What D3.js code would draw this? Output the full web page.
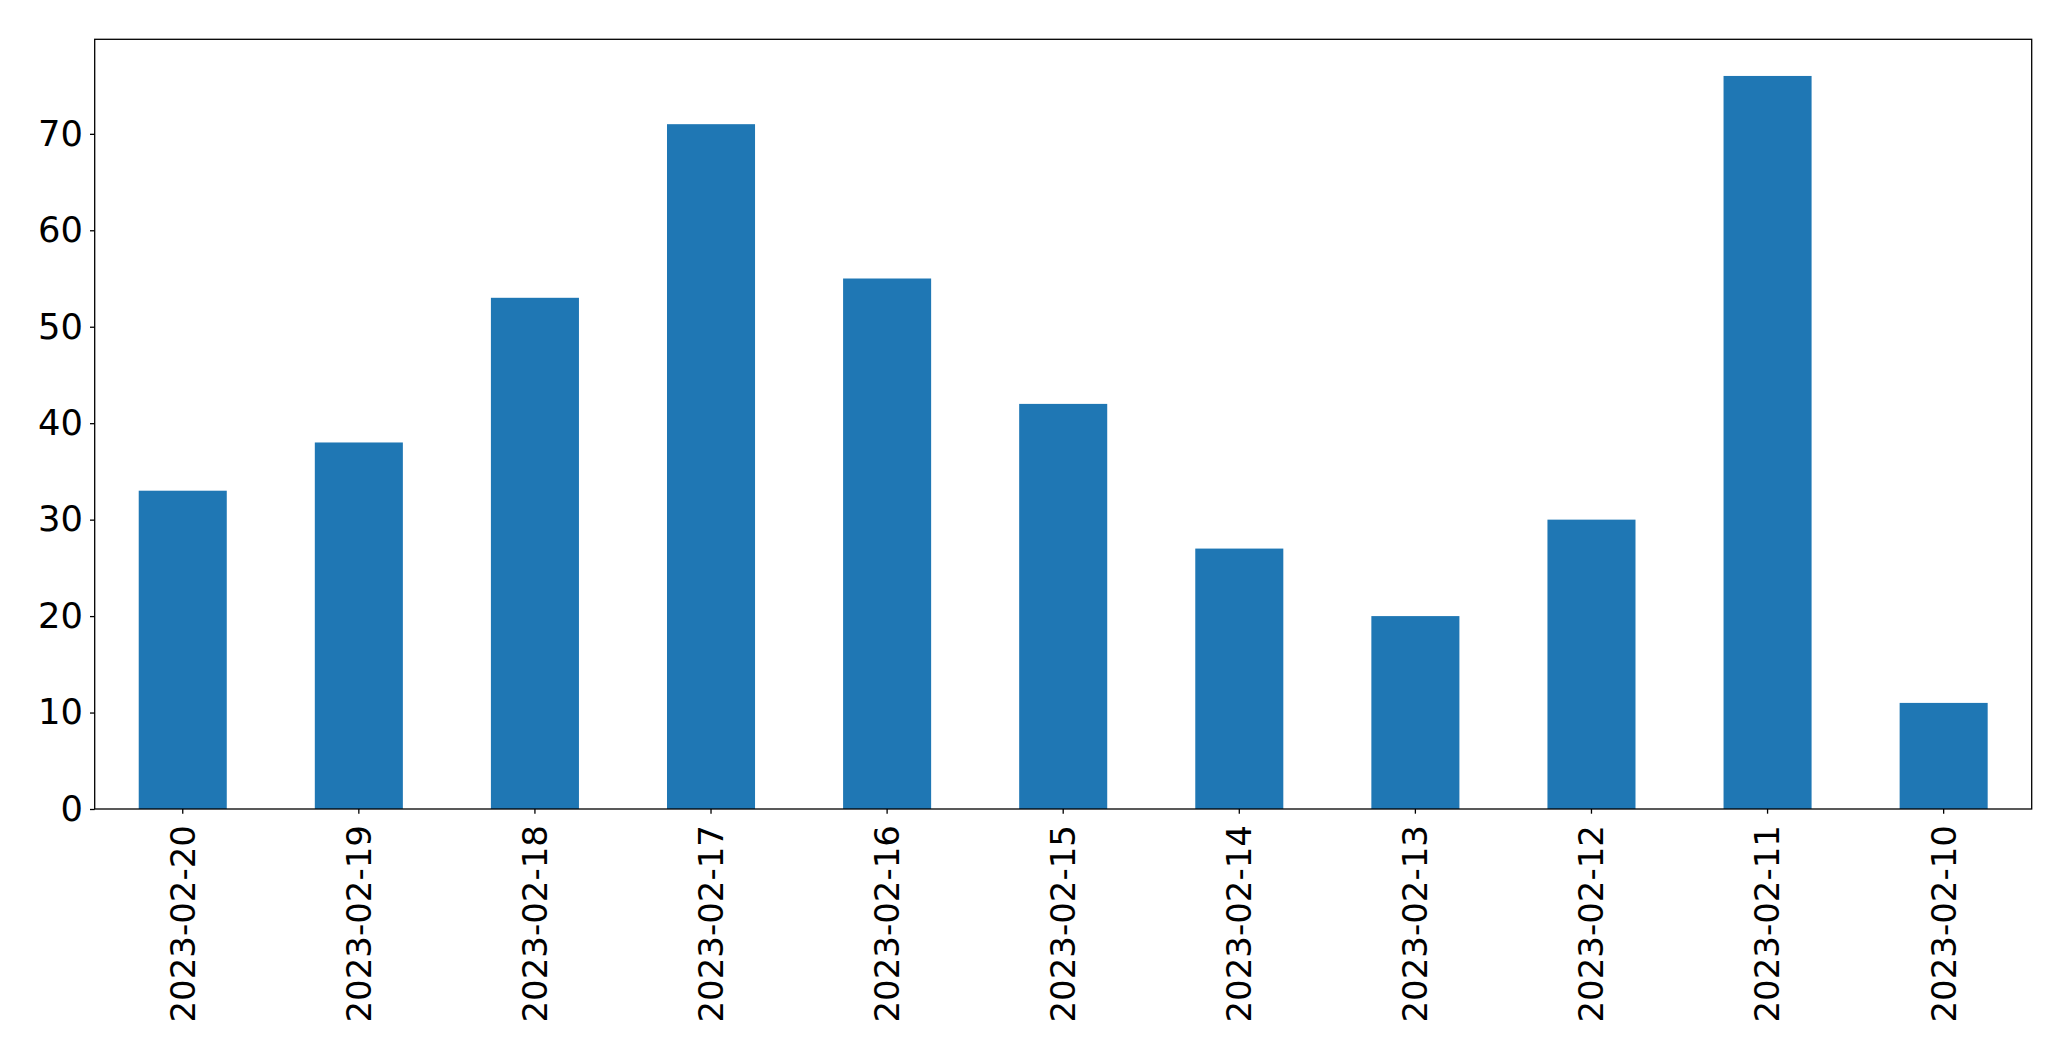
<!DOCTYPE html>
<html>
<head>
<meta charset="utf-8">
<script src="https://cdn.jsdelivr.net/npm/d3@7"></script>
<style>
  html, body { margin: 0; padding: 0; background: #ffffff; }
  svg { display: block; }
</style>
</head>
<body>
<svg id="chart"></svg>
<script>
const categories = ["2023-02-20","2023-02-19","2023-02-18","2023-02-17","2023-02-16","2023-02-15","2023-02-14","2023-02-13","2023-02-12","2023-02-11","2023-02-10"];
const values = [33, 38, 53, 71, 55, 42, 27, 20, 30, 76, 11];
const yTicks = [0, 10, 20, 30, 40, 50, 60, 70];

const W = 2071, H = 1061;
const margin = { left: 94.7, right: W - 2031.7, top: 39.3, bottom: H - 809 };
const svg = d3.select("#chart").attr("width", W).attr("height", H);
const fontFamily = "'DejaVu Sans', sans-serif";

const x = d3.scaleBand().domain(categories).range([margin.left, W - margin.right]).paddingInner(0.5).paddingOuter(0.25);
const y = d3.scaleLinear().domain([0, d3.max(values) * 1.05]).range([H - margin.bottom, margin.top]);

svg.append("g").selectAll("rect").data(categories).join("rect")
  .attr("x", d => x(d))
  .attr("width", x.bandwidth())
  .attr("y", (d, i) => y(values[i]))
  .attr("height", (d, i) => y(0) - y(values[i]))
  .attr("fill", "#1f77b4");

// frame
svg.append("rect")
  .attr("x", margin.left).attr("y", margin.top)
  .attr("width", W - margin.left - margin.right)
  .attr("height", H - margin.top - margin.bottom)
  .attr("fill", "none").attr("stroke", "#000").attr("stroke-width", 1.3);

const yAxis = svg.append("g").attr("transform", `translate(${margin.left},0)`)
  .call(d3.axisLeft(y).tickValues(yTicks).tickSize(4.7).tickPadding(7).tickFormat(d3.format("d")));
yAxis.select(".domain").remove();
yAxis.selectAll("line").attr("stroke", "#000").attr("stroke-width", 1.3);
yAxis.selectAll("text").attr("font-family", fontFamily).attr("font-size", 35.3).attr("fill", "#000");

const xAxis = svg.append("g").attr("transform", `translate(0,${H - margin.bottom})`)
  .call(d3.axisBottom(x).tickSize(4.7).tickPadding(0));
xAxis.select(".domain").remove();
xAxis.selectAll("line").attr("stroke", "#000").attr("stroke-width", 1.3);
xAxis.selectAll("text")
  .attr("font-family", fontFamily).attr("font-size", 34).attr("fill", "#000")
  .attr("transform", "translate(0,16) rotate(-90)")
  .attr("text-anchor", "end")
  .attr("dy", "0.35em")
  .attr("y", 0)
  .attr("x", 0);
</script>
</body>
</html>
